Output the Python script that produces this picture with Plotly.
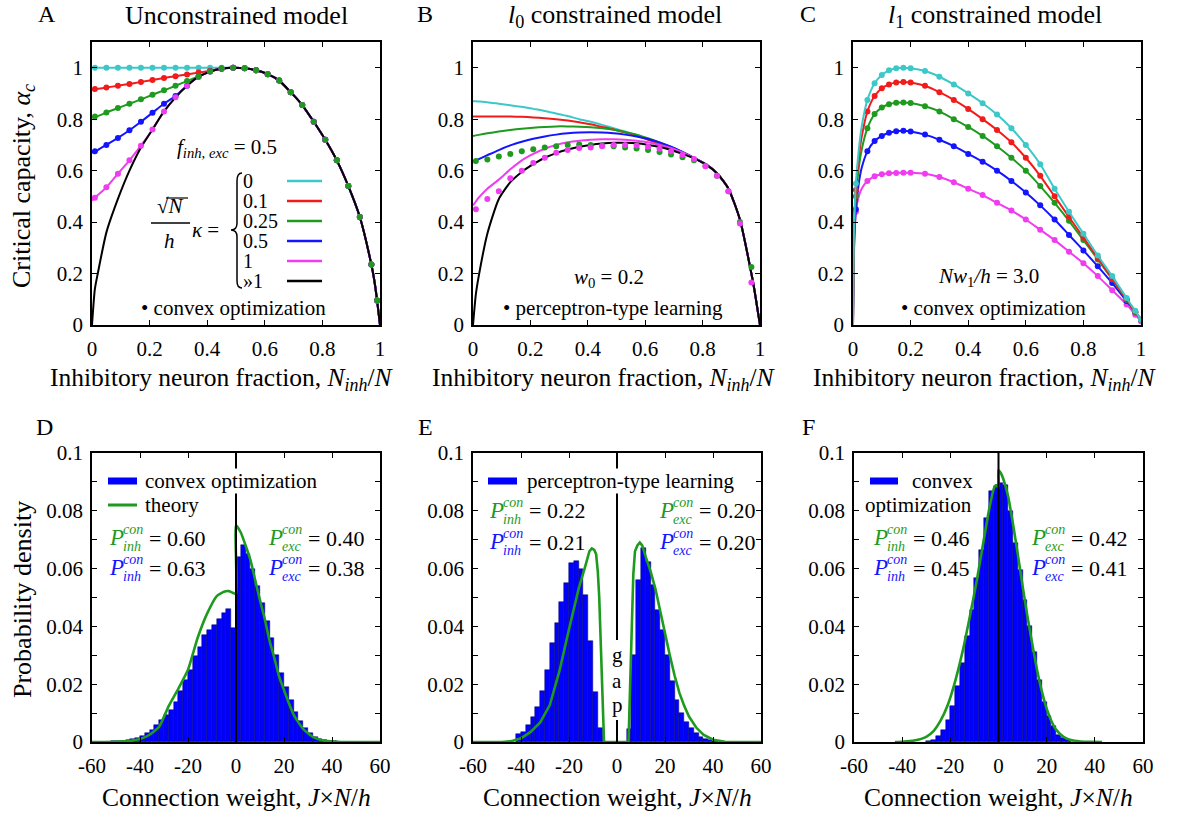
import plotly.graph_objects as go

W, H = 1183, 818
FONT = "Liberation Serif"

CYAN = "#3cc8c8"
RED = "#f21b1b"
GREEN = "#1e9a1e"
BLUE = "#1414ff"
MAGENTA = "#f03cf0"
BLACK = "#000000"
BAR_BLUE = "#0000ff"

# ---------------- Panel A : unconstrained model ----------------
A_F = [0, 0.01, 0.02, 0.05, 0.09, 0.13, 0.17, 0.21, 0.25, 0.29, 0.33, 0.37, 0.41, 0.45, 0.49,
       0.53, 0.57, 0.61, 0.65, 0.69, 0.73, 0.77, 0.81, 0.85, 0.89, 0.93, 0.97, 0.98, 0.99, 1.0]
A_TAIL = [0.998, 0.99, 0.975, 0.95, 0.905, 0.855, 0.79, 0.72, 0.64, 0.54, 0.42, 0.235, 0.175, 0.095, 0.0]
A_CYAN_L = [1.0] * 15
A_RED_L = [0.915, 0.917, 0.918, 0.923, 0.93, 0.937, 0.945, 0.952, 0.96, 0.967, 0.974, 0.981, 0.988, 0.995, 1.0]
A_GREEN_L = [0.807, 0.81, 0.812, 0.826, 0.843, 0.86, 0.877, 0.895, 0.912, 0.93, 0.948, 0.966, 0.985, 0.997, 1.0]
A_BLUE_L = [0.67, 0.675, 0.68, 0.70, 0.727, 0.757, 0.79, 0.825, 0.86, 0.89, 0.93, 0.965, 0.985, 0.997, 1.0]
A_MAG_L = [0.484, 0.495, 0.505, 0.535, 0.588, 0.64, 0.697, 0.76, 0.83, 0.885, 0.93, 0.965, 0.985, 0.997, 1.0]
A_BLACK_L = [0, 0.14, 0.2, 0.36, 0.49, 0.60, 0.69, 0.76, 0.83, 0.885, 0.93, 0.965, 0.985, 0.997, 1.0]
A_NODOT = [0, 0.02, 0.98, 1.0]

# ---------------- Panel B : l0 constrained ----------------
B_F = A_F
B_TAIL = [0.625, 0.59, 0.53, 0.41, 0.2, 0.14, 0.07, 0.0]
B_CYAN_L = [0.87, 0.87, 0.869, 0.866, 0.86, 0.854, 0.848, 0.84, 0.832, 0.822, 0.812, 0.80, 0.79, 0.778,
            0.765, 0.752, 0.738, 0.722, 0.705, 0.688, 0.67, 0.65]
B_RED_L = [0.81, 0.81, 0.81, 0.81, 0.81, 0.81, 0.809, 0.807, 0.804, 0.80, 0.795, 0.788, 0.78, 0.77,
           0.76, 0.748, 0.735, 0.72, 0.703, 0.687, 0.668, 0.649]
B_GREEN_L = [0.735, 0.737, 0.739, 0.745, 0.752, 0.758, 0.763, 0.767, 0.77, 0.772, 0.772, 0.771, 0.769, 0.765,
             0.759, 0.75, 0.74, 0.726, 0.71, 0.692, 0.672, 0.65]
B_BLUE_L = [0.635, 0.64, 0.645, 0.66, 0.68, 0.698, 0.712, 0.724, 0.733, 0.74, 0.745, 0.748, 0.749, 0.748,
            0.745, 0.74, 0.733, 0.723, 0.71, 0.693, 0.673, 0.65]
B_MAG_L = [0.465, 0.48, 0.495, 0.53, 0.565, 0.605, 0.64, 0.665, 0.685, 0.70, 0.71, 0.716, 0.72, 0.722,
           0.722, 0.72, 0.716, 0.71, 0.70, 0.688, 0.671, 0.65]
B_BLACK_L = [0, 0.12, 0.19, 0.355, 0.49, 0.555, 0.595, 0.625, 0.65, 0.668, 0.682, 0.693, 0.70, 0.705,
             0.708, 0.708, 0.706, 0.70, 0.692, 0.68, 0.665, 0.648]
B_DOT_F = [0.01, 0.05, 0.09, 0.13, 0.17, 0.21, 0.25, 0.29, 0.33, 0.37, 0.41, 0.45, 0.49, 0.53, 0.57,
           0.61, 0.65, 0.69, 0.73, 0.77, 0.81, 0.85, 0.89, 0.93, 0.97]
B_DOT_GREEN = [0.637, 0.643, 0.655, 0.665, 0.675, 0.683, 0.69, 0.695, 0.70, 0.702, 0.70, 0.698, 0.695, 0.69,
               0.686, 0.68, 0.672, 0.663, 0.652, 0.64, 0.618, 0.58, 0.52, 0.40, 0.225]
B_DOT_MAG = [0.45, 0.49, 0.52, 0.57, 0.60, 0.63, 0.65, 0.67, 0.68, 0.688, 0.69, 0.695, 0.70, 0.70, 0.698,
             0.693, 0.685, 0.675, 0.662, 0.645, 0.617, 0.58, 0.52, 0.395, 0.165]

# ---------------- Panel C : l1 constrained ----------------
C_F = [0, 0.004, 0.01, 0.02, 0.03, 0.05, 0.075, 0.1, 0.125, 0.15, 0.175, 0.2, 0.25, 0.3, 0.35, 0.4,
       0.45, 0.5, 0.55, 0.6, 0.65, 0.7, 0.75, 0.8, 0.85, 0.9, 0.95, 0.98, 1.0]
C_CYAN = [0, 0.4, 0.55, 0.68, 0.77, 0.875, 0.94, 0.972, 0.99, 0.998, 1.0, 0.998, 0.987, 0.965, 0.935, 0.9,
          0.862, 0.818, 0.765, 0.70, 0.625, 0.53, 0.44, 0.355, 0.27, 0.19, 0.105, 0.055, 0.02]
C_RED = [0, 0.38, 0.525, 0.65, 0.73, 0.83, 0.89, 0.92, 0.935, 0.943, 0.945, 0.943, 0.93, 0.905, 0.875, 0.84,
         0.80, 0.758, 0.71, 0.65, 0.58, 0.50, 0.42, 0.34, 0.26, 0.18, 0.10, 0.052, 0.02]
C_GREEN = [0, 0.36, 0.5, 0.61, 0.68, 0.765, 0.82, 0.845, 0.858, 0.864, 0.865, 0.863, 0.85, 0.83, 0.80, 0.77,
           0.735, 0.695, 0.65, 0.60, 0.54, 0.475, 0.405, 0.33, 0.255, 0.178, 0.098, 0.05, 0.02]
C_BLUE = [0, 0.32, 0.45, 0.55, 0.61, 0.675, 0.715, 0.735, 0.747, 0.753, 0.755, 0.752, 0.74, 0.72, 0.695, 0.665,
          0.635, 0.60, 0.56, 0.515, 0.465, 0.41, 0.35, 0.29, 0.228, 0.163, 0.093, 0.05, 0.02]
C_MAG = [0, 0.3, 0.44, 0.50, 0.53, 0.56, 0.578, 0.586, 0.59, 0.591, 0.592, 0.592, 0.588, 0.575, 0.555, 0.53,
         0.505, 0.475, 0.445, 0.41, 0.37, 0.33, 0.285, 0.24, 0.19, 0.135, 0.08, 0.04, 0.015]
C_NODOT = [0, 0.004, 0.02, 0.03]

# ---------------- Panel D histogram ----------------
D_X = [-55, -53, -51, -49, -47, -45, -43, -41, -39, -37, -35, -33, -31, -29, -27, -25, -23, -21, -19, -17,
       -15, -13, -11, -9, -7, -5, -3, -1,
       1, 3, 5, 7, 9, 11, 13, 15, 17, 19, 21, 23, 25, 27, 29, 31, 33, 35, 37, 39, 41, 43, 45]
D_Y = [0.0001, 0.0001, 0.0002, 0.0003, 0.0005, 0.0007, 0.0009, 0.0014, 0.0021, 0.003, 0.0042, 0.0059, 0.0076,
       0.0094, 0.0112, 0.0138, 0.0175, 0.0215, 0.025, 0.0296, 0.033, 0.037, 0.0388, 0.0405, 0.0427, 0.0445,
       0.0459, 0.0393,
       0.064, 0.068, 0.065, 0.060, 0.054, 0.048, 0.042, 0.036, 0.030, 0.024, 0.019, 0.0145, 0.0105, 0.0072,
       0.0048, 0.003, 0.0018, 0.001, 0.0006, 0.0003, 0.0002, 0.0001, 0.0001]
D_TH_X = [-60, -50, -45, -40, -36, -32, -28, -24, -20, -16, -12, -8, -5, -3, -1, 0, 0, 2, 4, 6, 8, 10, 12,
          14, 16, 18, 20, 22, 24, 26, 28, 30, 32, 35, 38, 42, 45, 60]
D_TH_Y = [0, 0.0001, 0.0003, 0.001, 0.0025, 0.0053, 0.0125, 0.0185, 0.025, 0.036, 0.0445, 0.0505, 0.052,
          0.0522, 0.0515, 0.0512, 0.075, 0.0725, 0.068, 0.063, 0.056, 0.049, 0.0425, 0.035, 0.029, 0.0225,
          0.018, 0.0135, 0.0095, 0.0068, 0.0045, 0.003, 0.0018, 0.0008, 0.0003, 0.0001, 0, 0]

# ---------------- Panel E histogram ----------------
E_X = [-41, -39, -37, -35, -33, -31, -29, -27, -25, -23, -21, -19, -17, -15, -13, -11, -9, -7,
       5, 7, 9, 11, 13, 15, 17, 19, 21, 23, 25, 27, 29, 31, 33, 35, 37, 39, 41]
E_Y = [0.0028, 0.0036, 0.0059, 0.0088, 0.0122, 0.0178, 0.0249, 0.0341, 0.0413, 0.0486, 0.055, 0.0618,
       0.0627, 0.060, 0.051, 0.035, 0.0172, 0.005,
       0.0044, 0.030, 0.056, 0.067, 0.0624, 0.0543, 0.0457, 0.0388, 0.030, 0.021, 0.0145, 0.0099, 0.007,
       0.0047, 0.003, 0.0018, 0.001, 0.0007, 0.0004]
E_TH_X = [-60, -48, -44, -40, -36, -32, -28, -24, -20, -16, -13, -11.5, -10.5, -9.5, -8.7, -8.0, -7.4, -6.4,
          -5.4, 4.8, 5.5, 6.2, 6.8, 7.5, 8.5, 9.5, 10.5, 12, 14, 16, 18, 20, 22, 24, 26, 28, 30, 33, 36, 40,
          45, 60]
E_TH_Y = [0, 0, 0.0003, 0.0013, 0.0035, 0.0068, 0.0128, 0.0245, 0.039, 0.053, 0.0615, 0.066, 0.067, 0.0665,
          0.065, 0.059, 0.05, 0.027, 0, 0, 0.022, 0.045, 0.058, 0.066, 0.068, 0.069, 0.068, 0.064, 0.059,
          0.053, 0.045, 0.037, 0.030, 0.023, 0.017, 0.0125, 0.0088, 0.005, 0.0025, 0.0008, 0.0001, 0]

# ---------------- Panel F histogram ----------------
F_X = [-29, -27, -25, -23, -21, -19, -17, -15, -13, -11, -9, -7, -5, -3, -1,
       1, 3, 5, 7, 9, 11, 13, 15, 17, 19, 21, 23, 25, 27, 29]
F_Y = [0.0003, 0.0008, 0.002, 0.0043, 0.0077, 0.0123, 0.0193, 0.0273, 0.0366, 0.0458, 0.0567, 0.0665,
       0.0775, 0.0867, 0.0885,
       0.0895, 0.089, 0.080, 0.069, 0.0596, 0.049, 0.040, 0.031, 0.0216, 0.014, 0.0089, 0.0054, 0.0025,
       0.0014, 0.0006]
F_TH_X = [-43, -40, -35, -30, -27, -24, -21, -18, -15, -12, -9, -6, -4, -2, -1, 0,
          0, 1, 2, 4, 6, 8, 10, 12, 14, 16, 18, 20, 22, 24, 27, 30, 34, 38, 43]
F_TH_Y = [0, 0.0001, 0.0005, 0.0018, 0.0038, 0.0075, 0.013, 0.021, 0.031, 0.043, 0.056, 0.0705, 0.08,
          0.0875, 0.0889, 0.088,
          0.094, 0.093, 0.091, 0.085, 0.0755, 0.065, 0.054, 0.0435, 0.034, 0.025, 0.0175, 0.0115, 0.0072,
          0.0042, 0.0018, 0.0007, 0.0002, 0.00005, 0]

# tick definitions
FRAC_TICKS = [0, 0.2, 0.4, 0.6, 0.8, 1.0]
FRAC_TEXT = ["0", "0.2", "0.4", "0.6", "0.8", "1"]
W_TICKS = [-60, -40, -20, 0, 20, 40, 60]
W_TEXT = ["-60", "-40", "-20", "0", "20", "40", "60"]
P_TICKS = [0, 0.02, 0.04, 0.06, 0.08, 0.1]
P_TEXT = ["0", "0.02", "0.04", "0.06", "0.08", "0.1"]
P_MINOR = [0.01, 0.03, 0.05, 0.07, 0.09]

# panel pixel boxes (x0, x1, ytop, ybottom)
PANELS = {1: (92, 380, 42, 325), 2: (473, 760, 42, 325), 3: (853, 1141, 42, 325),
          4: (92, 380, 453, 742), 5: (473, 761, 453, 742), 6: (854, 1143, 453, 742)}


def px(x):
    return x / W


def py(y):
    return 1 - y / H


def ax(i):
    return ("x" if i == 1 else f"x{i}"), ("y" if i == 1 else f"y{i}")


fig = go.Figure()


def line(i, x, y, color, width=2.0, shape="spline", smoothing=0.6):
    xa, ya = ax(i)
    fig.add_trace(go.Scatter(x=x, y=y, mode="lines", xaxis=xa, yaxis=ya, showlegend=False,
                             hoverinfo="skip",
                             line=dict(color=color, width=width, shape=shape,
                                       smoothing=smoothing if shape == "spline" else None)))


def dots(i, x, y, color, size=6):
    xa, ya = ax(i)
    fig.add_trace(go.Scatter(x=x, y=y, mode="markers", xaxis=xa, yaxis=ya, showlegend=False,
                             hoverinfo="skip", marker=dict(color=color, size=size, line=dict(width=0))))


def bars(i, x, y):
    xa, ya = ax(i)
    fig.add_trace(go.Bar(x=x, y=y, width=2, xaxis=xa, yaxis=ya, showlegend=False, hoverinfo="skip",
                         marker=dict(color=BAR_BLUE, line=dict(color="#00006a", width=0.5))))


# ---- Panel A traces
A_series = [(A_CYAN_L, CYAN), (A_RED_L, RED), (A_GREEN_L, GREEN), (A_BLUE_L, BLUE), (A_MAG_L, MAGENTA)]
for left, col in A_series:
    line(1, A_F, left + A_TAIL, col)
line(1, A_F, A_BLACK_L + A_TAIL, BLACK)
for left, col in [A_series[0], A_series[1], A_series[3], A_series[4], A_series[2]]:
    vals = left + A_TAIL
    xs = [f for f in A_F if f not in A_NODOT]
    ys = [v for f, v in zip(A_F, vals) if f not in A_NODOT]
    dots(1, xs, ys, col)

# ---- Panel B traces
for left, col in [(B_CYAN_L, CYAN), (B_RED_L, RED), (B_GREEN_L, GREEN), (B_BLUE_L, BLUE), (B_MAG_L, MAGENTA)]:
    line(2, B_F, left + B_TAIL, col)
line(2, B_F, B_BLACK_L + B_TAIL, BLACK)
dots(2, B_DOT_F, B_DOT_GREEN, GREEN)
dots(2, B_DOT_F, B_DOT_MAG, MAGENTA)

# ---- Panel C traces
for vals, col in [(C_MAG, MAGENTA), (C_BLUE, BLUE), (C_GREEN, GREEN), (C_RED, RED), (C_CYAN, CYAN)]:
    line(3, C_F, vals, col)
    dots(3, [f for f in C_F if f not in C_NODOT], [v for f, v in zip(C_F, vals) if f not in C_NODOT], col)

# ---- Histograms
bars(4, D_X, D_Y)
line(4, D_TH_X, D_TH_Y, GREEN, width=2.6, smoothing=0.5)
line(4, [0, 0], [0, 0.1], BLACK, width=2, shape="linear")

bars(5, E_X, E_Y)
line(5, E_TH_X, E_TH_Y, GREEN, width=2.6, shape="linear")
line(5, [0, 0], [0.0353, 0.1], BLACK, width=2, shape="linear")
line(5, [0, 0], [0, 0.0076], BLACK, width=2, shape="linear")

bars(6, F_X, F_Y)
line(6, F_TH_X, F_TH_Y, GREEN, width=2.6, smoothing=0.5)
line(6, [0, 0], [0, 0.1], BLACK, width=2, shape="linear")

# ---- axes
layout = dict(width=W, height=H, margin=dict(l=0, r=0, t=0, b=0, autoexpand=False), autosize=False,
              paper_bgcolor="white", plot_bgcolor="white", hovermode=False, bargap=0,
              barmode="overlay", font=dict(family=FONT, color=BLACK))
base = dict(showline=True, linecolor=BLACK, linewidth=1.6, mirror="allticks", ticks="inside",
            ticklen=5, tickwidth=1.2, tickcolor=BLACK, showgrid=False, zeroline=False, automargin=False,
            tickfont=dict(family=FONT, size=21, color=BLACK), fixedrange=True)
for i, (x0, x1, yt, yb) in PANELS.items():
    xa = "xaxis" if i == 1 else f"xaxis{i}"
    ya = "yaxis" if i == 1 else f"yaxis{i}"
    xn, yn = ax(i)
    if i <= 3:
        xr, xt, xtt = [0, 1], FRAC_TICKS, FRAC_TEXT
        yr, yt_, ytt = [0, 1.1], FRAC_TICKS, FRAC_TEXT
        yminor = None
    else:
        xr, xt, xtt = [-60, 60], W_TICKS, W_TEXT
        yr, yt_, ytt = [0, 0.1], P_TICKS, P_TEXT
        yminor = dict(tickmode="array", tickvals=P_MINOR, ticks="inside", ticklen=5, tickwidth=1.2,
                      tickcolor=BLACK, showgrid=False)
    layout[xa] = dict(base, domain=[px(x0), px(x1)], anchor=yn, range=xr, tickmode="array",
                      tickvals=xt, ticktext=xtt, ticklabelstandoff=4)
    layout[ya] = dict(base, domain=[py(yb), py(yt)], anchor=xn, range=yr, tickmode="array",
                      tickvals=yt_, ticktext=ytt, ticklabelstandoff=3)
    if yminor:
        layout[ya]["minor"] = yminor

anns = []


def T(text, x, y, size, color=BLACK, xanchor="left", yanchor="middle", angle=0, bg=None):
    d = dict(text=text, x=px(x), y=py(y), xref="paper", yref="paper", showarrow=False,
             xanchor=xanchor, yanchor=yanchor, textangle=angle, borderpad=0,
             font=dict(family=FONT, size=size, color=color))
    if bg:
        d["bgcolor"] = bg
    anns.append(d)


shapes = []


def L(x0, y0, x1, y1, color=BLACK, width=2.0):
    shapes.append(dict(type="line", xref="paper", yref="paper", x0=px(x0), y0=py(y0), x1=px(x1),
                       y1=py(y1), line=dict(color=color, width=width)))


# panel letters & titles
for letter, x, y in [("A", 37, 14), ("B", 416, 14), ("C", 799, 14), ("D", 35, 427), ("E", 417, 427),
                     ("F", 801, 427)]:
    T(letter, x, y, 24)
T("Unconstrained model", 236, 16, 26, xanchor="center")
T("<i>l</i><sub>0</sub> constrained model", 615, 16, 26, xanchor="center")
T("<i>l</i><sub>1</sub> constrained model", 995, 16, 26, xanchor="center")

# axis titles
for cx in (222, 604, 985):
    T("Inhibitory neuron fraction, <i>N</i><sub><i>inh</i></sub>/<i>N</i>", cx, 379, 25.5, xanchor="center")
for cx in (236, 617, 998):
    T("Connection weight, <i>J</i>×<i>N</i>/<i>h</i>", cx, 797, 25.5, xanchor="center")
T("Critical capacity, <i>α<sub>c</sub></i>", 23, 186, 26, xanchor="center", angle=-90)
T("Probability density", 22, 600, 26, xanchor="center", angle=-90)

# panel A legend
T("<i>f</i><sub><i>inh, exc</i></sub> = 0.5", 176, 148, 21)
T("√<i>N</i>", 170, 206, 21, xanchor="center")
L(166, 198, 188, 198, BLACK, 1.2)
L(151, 223, 190, 223, BLACK, 1.3)
T("<i>h</i>", 169, 241, 21, xanchor="center")
T("<i>κ</i> =", 191, 230, 21)
# brace
bp = [(242, 173), (237, 173), (237, 181), (237, 223), (237, 230), (231, 230), (237, 230), (237, 237),
      (237, 281), (237, 288), (242, 288)]
path = "M {} {} Q {} {} {} {} L {} {} Q {} {} {} {} Q {} {} {} {} L {} {} Q {} {} {} {}".format(
    *[v for p in bp for v in (px(p[0]), py(p[1]))])
shapes.append(dict(type="path", xref="paper", yref="paper", path=path, line=dict(color=BLACK, width=1.5)))
for lab, yy, col in [("0", 181, CYAN), ("0.1", 201, RED), ("0.25", 221, GREEN), ("0.5", 241, BLUE),
                     ("1", 261, MAGENTA), ("»1", 281, BLACK)]:
    T(lab, 242, yy, 20)
    L(287, yy, 322, yy, col, 2.5)
T("• convex optimization", 140, 308, 21)

# panel B, C annotations
T("<i>w</i><sub>0</sub> = 0.2", 573, 278, 21)
T("• perceptron-type learning", 502, 308, 21)
T("<i>Nw</i><sub>1</sub><i>/h</i> = 3.0", 937, 277, 21)
T("• convex optimization", 900, 308, 21)

# histogram legends
L(108, 481, 137, 481, BAR_BLUE, 7)
T("convex optimization", 144, 481, 21, bg="white")
L(108, 505, 137, 505, GREEN, 3)
T("theory", 144, 505, 21)
L(488, 481, 517, 481, BAR_BLUE, 7)
T("perceptron-type learning", 526, 481, 21, bg="white")
L(870, 481, 898, 481, BAR_BLUE, 7)
T("convex", 911, 481, 21)
T("optimization", 864, 505, 21)

# gap text
for ch, yy in [("g", 655), ("a", 681), ("p", 705)]:
    T(ch, 617, yy, 21, xanchor="center")


def plabel(x0, yc, color, sub, val):
    T("<i>P</i>", x0, yc, 23, color)
    T("<i>con</i>", x0 + 14, yc - 8, 14, color)
    T(f"<i>{sub}</i>", x0 + 14, yc + 9, 14, color)
    T(f"= {val}", x0 + 40, yc + 1, 22, BLACK)


plabel(108, 537, GREEN, "inh", "0.60")
plabel(108, 567, BLUE, "inh", "0.63")
plabel(267, 537, GREEN, "exc", "0.40")
plabel(267, 567, BLUE, "exc", "0.38")
plabel(488, 510, GREEN, "inh", "0.22")
plabel(488, 541, BLUE, "inh", "0.21")
plabel(658, 510, GREEN, "exc", "0.20")
plabel(658, 541, BLUE, "exc", "0.20")
plabel(872, 537, GREEN, "inh", "0.46")
plabel(872, 567, BLUE, "inh", "0.45")
plabel(1030, 537, GREEN, "exc", "0.42")
plabel(1030, 567, BLUE, "exc", "0.41")

layout["annotations"] = anns
layout["shapes"] = shapes
fig.update_layout(**layout)
# remove the default 8px page margin so the figure fills the window exactly
fig.write_html("out.html", config={"displayModeBar": False},
               post_script="document.body.style.margin='0px';document.body.style.overflow='hidden';")
